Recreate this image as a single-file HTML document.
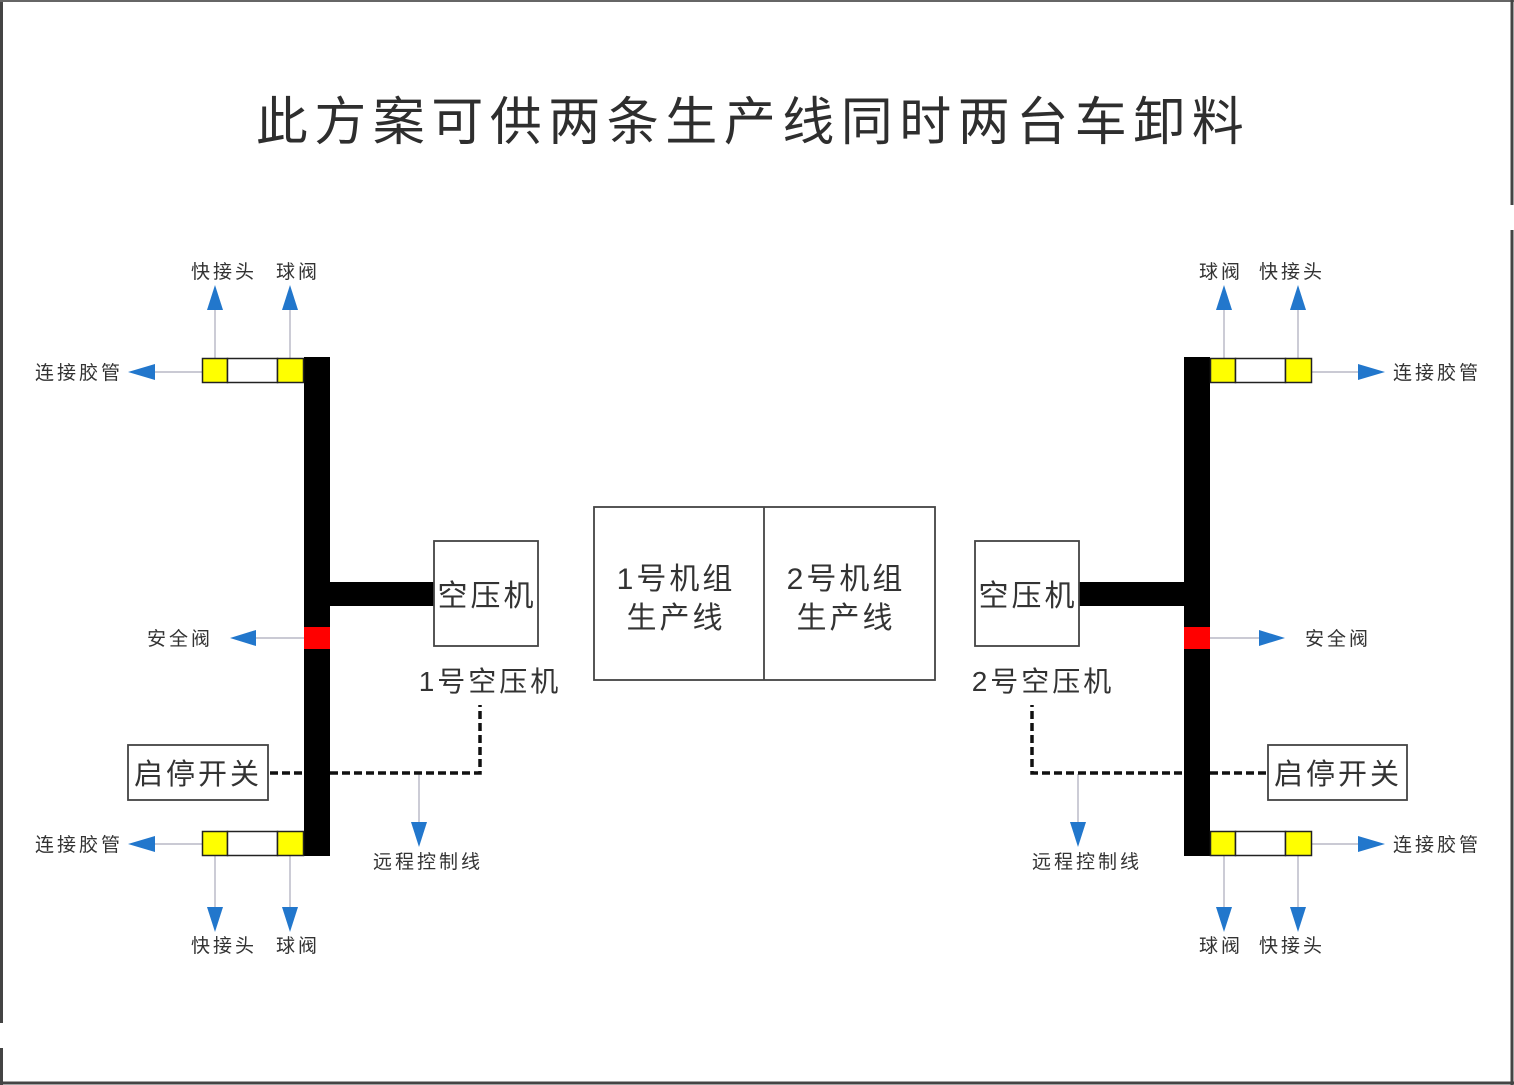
<!DOCTYPE html>
<html><head><meta charset="utf-8"><style>
html,body{margin:0;padding:0;background:#fff;}
svg{display:block;}
text{font-family:"Liberation Sans","Noto Sans CJK SC",sans-serif;fill:#333;}
</style></head><body>
<svg width="1514" height="1085" viewBox="0 0 1514 1085" xmlns="http://www.w3.org/2000/svg">
<!-- frame -->
<line x1="1.5" y1="0" x2="1.5" y2="1023" stroke="#444" stroke-width="3"/>
<line x1="1.5" y1="1048" x2="1.5" y2="1085" stroke="#444" stroke-width="3"/>
<line x1="0" y1="1083" x2="1514" y2="1083" stroke="#444" stroke-width="3"/>
<line x1="0" y1="1" x2="1514" y2="1" stroke="#666" stroke-width="2"/>
<line x1="1512" y1="0" x2="1512" y2="205" stroke="#444" stroke-width="3"/>
<line x1="1512" y1="230" x2="1512" y2="1085" stroke="#444" stroke-width="3"/>

<text x="753" y="140" font-size="52" text-anchor="middle" letter-spacing="6.5" style="fill:#2e2e2e">此方案可供两条生产线同时两台车卸料</text>

<g fill="#2277cc" stroke="none">
<polygon points="215,285 207,310 223,310"/><polygon points="290,285 282,310 298,310"/>
<polygon points="1224,285 1216,310 1232,310"/><polygon points="1298,285 1290,310 1306,310"/>
<polygon points="128,372 155,364 155,380"/><polygon points="128,844 155,836 155,852"/>
<polygon points="230,638 256,630 256,646"/>
<polygon points="1385,372 1358,364 1358,380"/><polygon points="1385,844 1358,836 1358,852"/>
<polygon points="1285,638 1259,630 1259,646"/>
<polygon points="215,932 207,907 223,907"/><polygon points="290,932 282,907 298,907"/>
<polygon points="1224,932 1216,907 1232,907"/><polygon points="1298,932 1290,907 1306,907"/>
<polygon points="419,847 411,822 427,822"/><polygon points="1078,847 1070,822 1086,822"/>
</g>
<g stroke="#aab" stroke-width="1.2" fill="none">
<line x1="215" y1="310" x2="215" y2="358"/><line x1="290" y1="310" x2="290" y2="358"/>
<line x1="1224" y1="310" x2="1224" y2="358"/><line x1="1298" y1="310" x2="1298" y2="358"/>
<line x1="155" y1="372" x2="202" y2="372"/><line x1="155" y1="844" x2="202" y2="844"/>
<line x1="256" y1="638" x2="304" y2="638"/>
<line x1="1312" y1="372" x2="1358" y2="372"/><line x1="1312" y1="844" x2="1358" y2="844"/>
<line x1="1210" y1="638" x2="1259" y2="638"/>
<line x1="215" y1="856" x2="215" y2="907"/><line x1="290" y1="856" x2="290" y2="907"/>
<line x1="1224" y1="856" x2="1224" y2="907"/><line x1="1298" y1="856" x2="1298" y2="907"/>
<line x1="419" y1="774" x2="419" y2="822"/><line x1="1078" y1="774" x2="1078" y2="822"/>
</g>

<g stroke="#111" stroke-width="3.5" stroke-dasharray="8,4" fill="none">
<polyline points="270,773 480,773 480,705"/>
<polyline points="1266,773 1032,773 1032,705"/>
</g>

<rect x="304" y="357" width="26" height="499" fill="#000"/>
<rect x="330" y="582" width="104" height="24" fill="#000"/>
<rect x="304" y="627" width="26" height="22" fill="#f00"/>
<g stroke="#222" stroke-width="1.5">
<rect x="202.5" y="358.5" width="25" height="24" fill="#ff0"/>
<rect x="227.5" y="358.5" width="50" height="24" fill="#fff"/>
<rect x="277.5" y="358.5" width="26" height="24" fill="#ff0"/>
<rect x="202.5" y="831.5" width="25" height="24" fill="#ff0"/>
<rect x="227.5" y="831.5" width="50" height="24" fill="#fff"/>
<rect x="277.5" y="831.5" width="26" height="24" fill="#ff0"/>
</g>
<rect x="1184" y="357" width="26" height="499" fill="#000"/>
<rect x="1079" y="582" width="105" height="24" fill="#000"/>
<rect x="1184" y="627" width="26" height="22" fill="#f00"/>
<g stroke="#222" stroke-width="1.5">
<rect x="1210.5" y="358.5" width="25" height="24" fill="#ff0"/>
<rect x="1235.5" y="358.5" width="50" height="24" fill="#fff"/>
<rect x="1285.5" y="358.5" width="26" height="24" fill="#ff0"/>
<rect x="1210.5" y="831.5" width="25" height="24" fill="#ff0"/>
<rect x="1235.5" y="831.5" width="50" height="24" fill="#fff"/>
<rect x="1285.5" y="831.5" width="26" height="24" fill="#ff0"/>
</g>

<g fill="#fff" stroke="#444" stroke-width="1.8">
<rect x="434" y="541" width="104" height="105"/>
<rect x="975" y="541" width="104" height="105"/>
<rect x="594" y="507" width="341" height="173"/>
<line x1="764" y1="507" x2="764" y2="680"/>
<rect x="128" y="745" width="140" height="55"/>
<rect x="1268" y="745" width="139" height="55"/>
</g>

<g font-size="30" text-anchor="middle" letter-spacing="3">
<text x="487" y="606">空压机</text>
<text x="1028" y="606">空压机</text>
<text x="676" y="589">1号机组</text>
<text x="676" y="628">生产线</text>
<text x="846" y="589">2号机组</text>
<text x="846" y="628">生产线</text>
<text x="490" y="691" font-size="28">1号空压机</text>
<text x="1043" y="691" font-size="28">2号空压机</text>
<text x="198" y="784" font-size="29">启停开关</text>
<text x="1338" y="784" font-size="29">启停开关</text>
</g>
<g font-size="19" letter-spacing="3">
<text x="191" y="278">快接头</text><text x="276" y="278">球阀</text>
<text x="191" y="952">快接头</text><text x="276" y="952">球阀</text>
<text x="1199" y="278">球阀</text><text x="1259" y="278">快接头</text>
<text x="1199" y="952">球阀</text><text x="1259" y="952">快接头</text>
<text x="35" y="379">连接胶管</text><text x="35" y="851">连接胶管</text>
<text x="1393" y="379">连接胶管</text><text x="1393" y="851">连接胶管</text>
<text x="147" y="645">安全阀</text><text x="1305" y="645">安全阀</text>
<text x="373" y="868">远程控制线</text><text x="1032" y="868">远程控制线</text>
</g>
</svg>
</body></html>
